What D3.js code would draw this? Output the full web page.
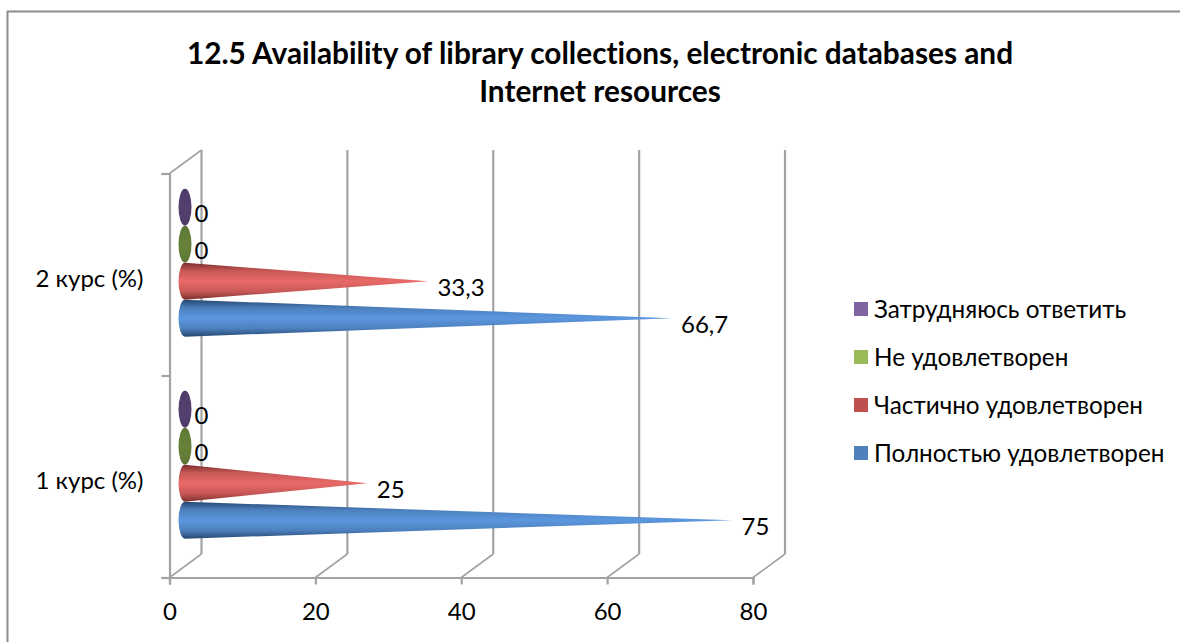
<!DOCTYPE html>
<html>
<head>
<meta charset="utf-8">
<script src="https://cdn.jsdelivr.net/npm/d3@7"></script>
<style>
html, body { margin: 0; padding: 0; background: #fff; }
svg { display: block; }
text { font-family: Lato, "Open Sans", sans-serif; fill: #000; font-variant-ligatures: none; }
</style>
</head>
<body>
<svg id="chart" width="1180" height="642"></svg>
<script>
var categories = ["1 курс (%)", "2 курс (%)"];
var seriesNames = ["Полностью удовлетворен", "Частично удовлетворен", "Не удовлетворен", "Затрудняюсь ответить"];
var seriesColors = ["#4f81bd", "#c0504d", "#9bbb59", "#8064a2"];
var lightColors = ["#5c97de", "#e86a68", "#66813a", "#54406f"];
var darkColors = ["#26476f", "#7a2e2c", "#5a7530", "#4c3a68"];
var labels1 = ["75", "25", "0", "0"];
var labels2 = ["66,7", "33,3", "0", "0"];
var values1 = [75, 25, 0, 0];
var values2 = [66.7, 33.3, 0, 0];
var xTicks = [0, 20, 40, 60, 80];
var titleLines = ["12.5 Availability of library collections, electronic databases and", "Internet resources"];

var svg = d3.select("#chart");
var gray = "#a3a3a3";

// front plane of the fake 3d box, back wall is shifted by depth
var left = 169.5, right = 753, bottom = 577.5, top_ = 173.5;
var depthX = 32, depthY = -23.5;

var x = d3.scaleLinear().domain([0, 80]).range([left, right]);
var yEdge = d3.scaleLinear().domain([0, 2]).range([bottom, top_]);
var yBand = d3.scaleBand().domain(categories).range([bottom, top_]);
var yBar = d3.scaleBand().domain(seriesNames).range([148, 0]);

// chart frame
svg.append("path")
    .attr("d", "M7.5,642V11.5H1180")
    .attr("fill", "none")
    .attr("stroke", "#8c8c8c")
    .attr("stroke-width", 2);

svg.selectAll(".title")
    .data(titleLines)
    .enter().append("text")
    .attr("class", "title")
    .attr("x", 600)
    .attr("y", function(d, i) { return 64 + i * 38; })
    .attr("text-anchor", "middle")
    .style("font-size", "29.8px")
    .style("font-weight", "bold")
    .text(function(d) { return d; });

// back wall lines
svg.selectAll(".grid")
    .data(xTicks)
    .enter().append("line")
    .attr("class", "grid")
    .attr("x1", function(d) { return x(d) + depthX; })
    .attr("x2", function(d) { return x(d) + depthX; })
    .attr("y1", top_ + depthY)
    .attr("y2", bottom + depthY)
    .attr("stroke", gray)
    .attr("stroke-width", 2.2);

// floor lines
svg.selectAll(".floor")
    .data(xTicks)
    .enter().append("line")
    .attr("class", "floor")
    .attr("x1", function(d) { return x(d); })
    .attr("x2", function(d) { return x(d) + depthX; })
    .attr("y1", bottom)
    .attr("y2", bottom + depthY)
    .attr("stroke", gray)
    .attr("stroke-width", 1.6);

svg.append("line")
    .attr("x1", x(0)).attr("x2", x(0) + depthX)
    .attr("y1", top_).attr("y2", top_ + depthY)
    .attr("stroke", gray)
    .attr("stroke-width", 1.6);

// axes
var xAxis = svg.append("g")
    .attr("transform", "translate(0," + bottom + ")")
    .call(d3.axisBottom(x).tickValues(xTicks).tickSize(7).tickPadding(18).tickFormat(d3.format("d")));

var yAxis = svg.append("g")
    .attr("transform", "translate(" + left + ",0)")
    .call(d3.axisLeft(yEdge).tickValues([0, 1, 2]).tickSize(8).tickFormat(""));

var yLabels = svg.append("g")
    .attr("transform", "translate(" + (left - 26) + ",5)")
    .call(d3.axisLeft(yBand).tickSize(0).tickPadding(0));
yLabels.select(".domain").remove();

[xAxis, yAxis].forEach(function(a) {
    a.selectAll(".domain, line").attr("stroke", gray).attr("stroke-width", 2.2);
});
xAxis.selectAll("text").style("font-size", "24px");
yLabels.selectAll("text").style("font-size", "24px");

// gradients for the cones, thin dark rim and a broad lit middle
var defs = svg.append("defs");
seriesNames.forEach(function(name, i) {
    var g = defs.append("linearGradient")
        .attr("id", "grad" + i)
        .attr("x1", 0).attr("x2", 0).attr("y1", 0).attr("y2", 1);
    var shoulder = d3.interpolateRgb(darkColors[i], lightColors[i])(0.7);
    g.append("stop").attr("offset", "0%").attr("stop-color", darkColors[i]);
    g.append("stop").attr("offset", "22%").attr("stop-color", shoulder);
    g.append("stop").attr("offset", "50%").attr("stop-color", lightColors[i]);
    g.append("stop").attr("offset", "78%").attr("stop-color", shoulder);
    g.append("stop").attr("offset", "100%").attr("stop-color", darkColors[i]);
});

var rows = [];
categories.forEach(function(cat, c) {
    var vals = c == 0 ? values1 : values2;
    var labs = c == 0 ? labels1 : labels2;
    seriesNames.forEach(function(name, s) {
        rows.push({ cat: cat, name: name, s: s, value: vals[s], label: labs[s] });
    });
});

var barOffsetX = depthX / 2 - 0.5, barOffsetY = depthY / 2;
var baseRx = 6.5;

function barY(d) {
    // the group of four bars is centred in its band on the mid depth plane
    return yBand(d.cat) + yBand.bandwidth() / 2 + barOffsetY - 74 + yBar(d.name) + yBar.bandwidth() / 2;
}
function conePath(d) {
    var x0 = x(0) + barOffsetX, tip = x(d.value) + barOffsetX;
    var y0 = barY(d), h = yBar.bandwidth() / 2;
    return "M" + x0 + "," + (y0 - h) + "L" + tip + "," + y0 + "L" + x0 + "," + (y0 + h)
        + "A" + baseRx + "," + h + " 0 0 1 " + x0 + "," + (y0 - h) + "Z";
}

var cones = svg.selectAll(".cone")
    .data(rows)
    .enter().append("g")
    .attr("class", "cone");

cones.filter(function(d) { return d.value > 0; }).append("path")
    .attr("d", conePath)
    .attr("fill", function(d) { return "url(#grad" + d.s + ")"; });

// zero values collapse to the base disc
cones.filter(function(d) { return d.value == 0; }).append("ellipse")
    .attr("cx", x(0) + barOffsetX)
    .attr("cy", barY)
    .attr("rx", baseRx)
    .attr("ry", yBar.bandwidth() / 2)
    .attr("fill", function(d) { return "url(#grad" + d.s + ")"; });

cones.append("text")
    .attr("x", function(d) { return x(d.value) + barOffsetX + 9.5; })
    .attr("y", function(d) { return barY(d) + 15; })
    .style("font-size", "24px")
    .text(function(d) { return d.label; });

// legend, last series on top
var legendY = d3.scalePoint().domain(seriesNames.slice().reverse()).range([309, 453]);
var legend = svg.selectAll(".legend")
    .data(seriesNames)
    .enter().append("g")
    .attr("class", "legend")
    .attr("transform", function(d) { return "translate(854," + legendY(d) + ")"; });

legend.append("rect")
    .attr("x", 0).attr("y", -7)
    .attr("width", 14).attr("height", 14)
    .attr("fill", function(d, i) { return seriesColors[i]; });

legend.append("text")
    .attr("x", 20)
    .attr("y", 8.5)
    .style("font-size", "24.3px")
    .text(function(d) { return d; });
</script>
</body>
</html>
